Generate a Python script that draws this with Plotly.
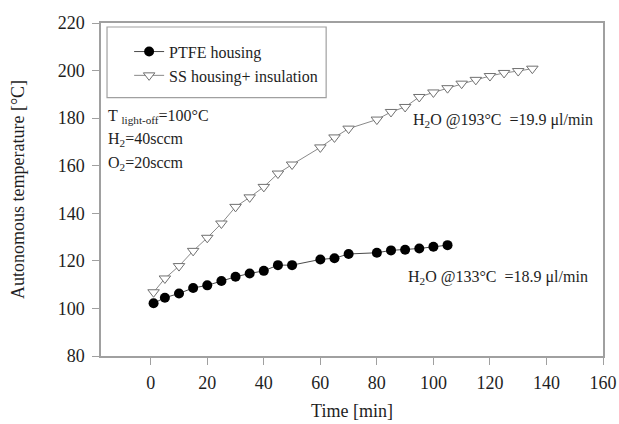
import plotly.graph_objects as go

# PTFE housing series
ptfe_time = [1, 5, 10, 15, 20, 25, 30, 35, 40, 45, 50, 60, 65, 70, 80, 85, 90, 95, 100, 105]
ptfe_temp = [102.2, 104.5, 106.3, 108.6, 109.7, 111.5, 113.3, 114.7, 115.8, 118.2, 118.2,
             120.6, 121.1, 122.9, 123.4, 124.4, 124.7, 125.2, 125.9, 126.6]

# SS housing + insulation series
ss_time = [1, 5, 10, 15, 20, 25, 30, 35, 40, 45, 50, 60, 65, 70, 80, 85, 90, 95, 100,
           105, 110, 115, 120, 125, 130, 135]
ss_temp = [106.8, 112.6, 117.8, 124.2, 129.7, 135.7, 142.7, 146.7, 151.1, 156.7, 160.5,
           167.7, 171.9, 175.6, 179.4, 182.6, 184.7, 188.9, 190.8, 192.6, 194.5, 196.1,
           197.7, 199.0, 199.8, 200.8]

x_ticks = [0, 20, 40, 60, 80, 100, 120, 140, 160]
y_ticks = [80, 100, 120, 140, 160, 180, 200, 220]

FONT = "Liberation Serif, Times New Roman, serif"
TXT = "#1e1e1e"
AXIS = "#a0a0a0"

fig = go.Figure()
fig.add_trace(go.Scatter(
    x=ptfe_time, y=ptfe_temp, mode="lines+markers", name="PTFE housing",
    line=dict(color="#4a4a4a", width=1),
    marker=dict(symbol="circle", size=10, color="black", line=dict(width=0)),
))
fig.add_trace(go.Scatter(
    x=ss_time, y=ss_temp, mode="lines+markers", name="SS housing+ insulation",
    line=dict(color="#8a8a8a", width=1),
    marker=dict(symbol="triangle-down", size=10, color="white",
                line=dict(color="#707070", width=1)),
))

axis_common = dict(
    showline=True, linecolor=AXIS, linewidth=1.5, mirror=True,
    ticks="outside", ticklen=7, tickcolor=AXIS, tickwidth=1.2,
    showgrid=False, zeroline=False, automargin=False,
    tickfont=dict(family=FONT, size=18, color=TXT),
    title_font=dict(family=FONT, size=18, color=TXT),
)

fig.update_xaxes(range=[-17.6, 160], tickvals=x_ticks, title_text="Time [min]",
                 title_standoff=12, ticklabelstandoff=3, **axis_common)
fig.update_yaxes(range=[80, 220], tickvals=y_ticks, title_text="Autonomous temperature [°C]",
                 title_standoff=28, ticklabelstandoff=4, **axis_common)

# legend frame
fig.add_shape(type="rect", xref="paper", yref="paper",
              x0=0.012, x1=0.4485, y0=0.776, y1=0.988,
              line=dict(color=AXIS, width=1.2), fillcolor="rgba(0,0,0,0)")

notes = [
    ("T <sub>light-off</sub>=100°C", -15.9, 180.9),
    ("H<sub>2</sub>=40sccm", -15.9, 170.9),
    ("O<sub>2</sub>=20sccm", -15.9, 161.1),
    ("H<sub>2</sub>O @193°C  =19.9 μl/min", 92.2, 179.1),
    ("H<sub>2</sub>O @133°C  =18.9 μl/min", 90.3, 112.8),
]
for text, x, y in notes:
    fig.add_annotation(text=text, x=x, y=y, xref="x", yref="y",
                       xanchor="left", yanchor="middle", showarrow=False,
                       font=dict(family=FONT, size=16, color=TXT))

fig.update_layout(
    width=619, height=424,
    margin=dict(l=101, r=16, t=23, b=68),
    paper_bgcolor="white", plot_bgcolor="white",
    showlegend=True,
    legend=dict(x=0.056, y=0.965, xanchor="left", yanchor="top",
                bgcolor="rgba(0,0,0,0)", borderwidth=0,
                font=dict(family=FONT, size=16, color=TXT),
                tracegroupgap=0),
)

fig.write_html("out.html")
